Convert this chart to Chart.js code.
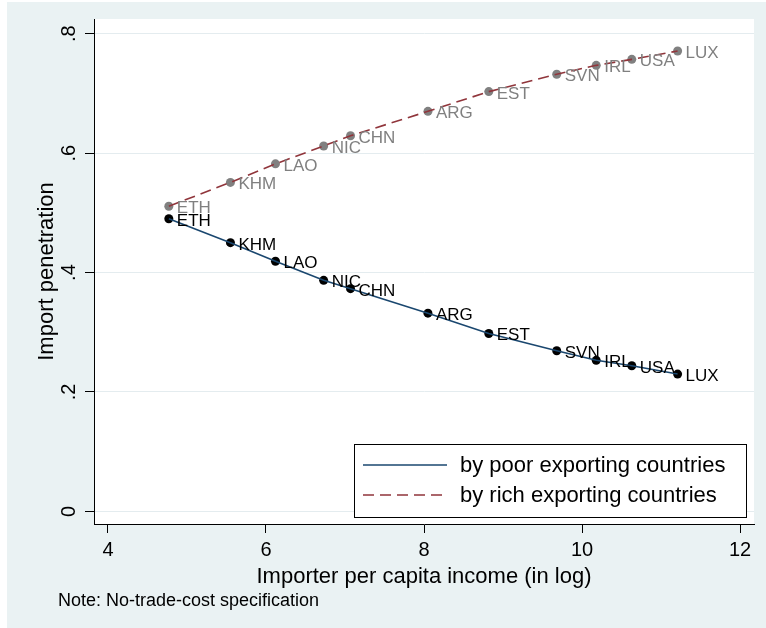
<!DOCTYPE html>
<html>
<head>
<meta charset="utf-8">
<script src="https://cdn.jsdelivr.net/npm/chart.js@4.4.1/dist/chart.umd.min.js"></script>
<style>
  html, body { margin: 0; padding: 0; background: #fff; }
  #wrap { width: 766px; height: 628px; }
</style>
</head>
<body>
<div id="wrap"><canvas id="chart" width="766" height="628"></canvas></div>
<script>
// data
const countries = ['ETH', 'KHM', 'LAO', 'NIC', 'CHN', 'ARG', 'EST', 'SVN', 'IRL', 'USA', 'LUX'];
const income = [4.77, 5.55, 6.12, 6.73, 7.07, 8.05, 8.82, 9.68, 10.18, 10.63, 11.21];
const poorShare = [0.490, 0.450, 0.419, 0.387, 0.373, 0.332, 0.298, 0.269, 0.253, 0.244, 0.230];
const richShare = [0.511, 0.551, 0.582, 0.612, 0.629, 0.670, 0.703, 0.732, 0.747, 0.757, 0.771];
const seriesNames = ['by poor exporting countries', 'by rich exporting countries'];
const xTicks = [4, 6, 8, 10, 12];
const yTicks = [0, 0.2, 0.4, 0.6, 0.8];
const yTickLabels = ['0', '.2', '.4', '.6', '.8'];
const xTitle = 'Importer per capita income (in log)';
const yTitle = 'Import penetration';
const noteText = 'Note: No-trade-cost specification';

const FONT = "'Liberation Sans', Arial, sans-serif";
const NAVY = '#1a476f';
const MAROON = '#90353b';
const GREY = '#808080';
const BG = '#eaf2f3';

const pts = ys => income.map((x, i) => ({ x: x, y: ys[i] }));

// graph region, plot region, note
const backdrop = {
  id: 'backdrop',
  beforeDraw(chart) {
    const { ctx, chartArea: a } = chart;
    ctx.save();
    ctx.fillStyle = '#fff';
    ctx.fillRect(0, 0, chart.width, chart.height);
    ctx.fillStyle = BG;
    ctx.fillRect(7, 2, chart.width - 7, chart.height - 2);
    ctx.fillStyle = '#fff';
    ctx.fillRect(a.left, a.top, a.right - a.left, a.bottom - a.top);
    ctx.restore();
  },
  afterDraw(chart) {
    const ctx = chart.ctx;
    ctx.save();
    ctx.fillStyle = '#000';
    ctx.font = '18px ' + FONT;
    ctx.textBaseline = 'middle';
    ctx.fillText(noteText, 58, 601);
    ctx.restore();
  }
};

// country labels at 3 o'clock of each marker
const markerLabels = {
  id: 'markerLabels',
  afterDatasetsDraw(chart) {
    const ctx = chart.ctx;
    ctx.save();
    ctx.font = '17px ' + FONT;
    ctx.textBaseline = 'alphabetic';
    chart.data.datasets.forEach((ds, di) => {
      if (!ds.countryLabels) return;
      ctx.fillStyle = ds.labelColor;
      chart.getDatasetMeta(di).data.forEach((p, i) => {
        ctx.fillText(countries[i], p.x + 8, p.y + 7);
      });
    });
    ctx.restore();
  }
};

// legend box inside plot region
const legendBox = {
  id: 'legendBox',
  afterDraw(chart) {
    const { ctx, chartArea: a } = chart;
    const w = 392, h = 73;
    const x = a.right - 8 - w, y = a.bottom - 7 - h;
    ctx.save();
    ctx.fillStyle = '#fff';
    ctx.fillRect(x, y, w, h);
    ctx.strokeStyle = '#000';
    ctx.lineWidth = 1;
    ctx.strokeRect(x + 0.5, y + 0.5, w, h);
    ctx.font = '22px ' + FONT;
    ctx.textBaseline = 'middle';
    [0, 1].forEach(k => {
      const ds = chart.data.datasets[k];
      const ly = y + 21 + k * 30;
      ctx.strokeStyle = ds.borderColor;
      ctx.lineWidth = ds.borderWidth;
      ctx.setLineDash(ds.borderDash || []);
      ctx.beginPath();
      ctx.moveTo(x + 9, ly);
      ctx.lineTo(x + 93, ly);
      ctx.stroke();
      ctx.setLineDash([]);
      ctx.fillStyle = '#000';
      ctx.fillText(ds.label, x + 106, ly + 1);
    });
    ctx.restore();
  }
};

new Chart(document.getElementById('chart'), {
  type: 'scatter',
  data: {
    datasets: [
      {
        label: seriesNames[0], data: pts(poorShare), showLine: true,
        borderColor: NAVY, borderWidth: 1.6, pointRadius: 0, order: 1
      },
      {
        label: seriesNames[1], data: pts(richShare), showLine: true,
        borderColor: MAROON, borderWidth: 1.6, borderDash: [11, 6], pointRadius: 0, order: 2
      },
      {
        label: 'poor markers', data: pts(poorShare), pointRadius: 4.5, borderWidth: 0,
        backgroundColor: '#000', countryLabels: true, labelColor: '#000', order: 3
      },
      {
        label: 'rich markers', data: pts(richShare), pointRadius: 4.5, borderWidth: 0,
        backgroundColor: GREY, countryLabels: true, labelColor: GREY, order: 4
      }
    ]
  },
  options: {
    responsive: false,
    animation: false,
    devicePixelRatio: 1,
    layout: { padding: { left: 7, right: 12, top: 18, bottom: 0 } },
    plugins: { legend: { display: false }, tooltip: { enabled: false } },
    scales: {
      x: {
        type: 'linear', min: 3.823, max: 12.177,
        afterBuildTicks: s => { s.ticks = xTicks.map(v => ({ value: v })); },
        afterFit: s => { s.height = 104; },
        grid: { drawOnChartArea: false, drawTicks: true, tickLength: 9, tickColor: '#000', tickWidth: 1 },
        border: { display: true, color: '#000', width: 1 },
        ticks: { color: '#000', font: { family: FONT, size: 20 }, padding: 5, maxRotation: 0 },
        title: { display: true, text: xTitle, color: '#000', font: { family: FONT, size: 22 }, padding: { top: 0, bottom: 38 } }
      },
      y: {
        type: 'linear', min: -0.0211, max: 0.8246,
        afterBuildTicks: s => { s.ticks = yTicks.map(v => ({ value: v })); },
        afterFit: s => { s.width = 87; },
        grid: { color: '#e4ecef', lineWidth: 1, drawTicks: true, tickLength: 9, tickColor: '#000', tickWidth: 1 },
        border: { display: true, color: '#000', width: 1 },
        ticks: {
          color: '#000', font: { family: FONT, size: 20 }, padding: 7,
          minRotation: 90, maxRotation: 90, crossAlign: 'center',
          callback: v => yTickLabels[yTicks.indexOf(v)]
        },
        title: { display: true, text: yTitle, color: '#000', font: { family: FONT, size: 22 }, padding: { top: 27, bottom: 0 } }
      }
    }
  },
  plugins: [backdrop, markerLabels, legendBox]
});
</script>
</body>
</html>
